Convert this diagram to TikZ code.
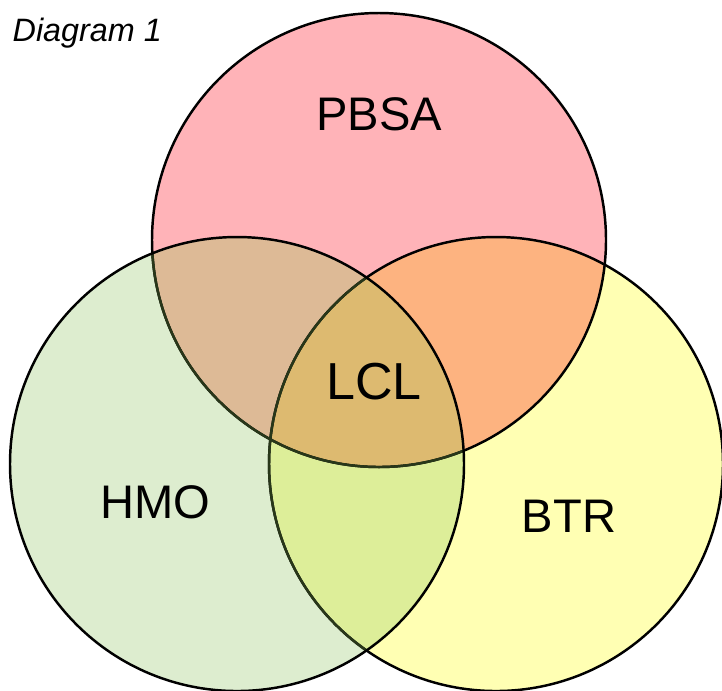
\documentclass[tikz,border=0pt]{standalone}
\usepackage{fontspec}
\setmainfont{Liberation Sans}
\begin{document}
\begin{tikzpicture}[x=0.01cm,y=-0.01cm,
  lbl/.style={font=\fontsize{13.4pt}{15pt}\selectfont, inner sep=0pt},
  ring/.style={draw=black, line width=0.7pt}]
\useasboundingbox (0,0) rectangle (722,690);
\def\Ra{227}
% circles
\coordinate (P) at (379,240);
\coordinate (H) at (237,464);
\coordinate (B) at (496,464);
\fill[fill={rgb,255:red,255;green,179;blue,184}] (P) circle (\Ra);
\fill[fill={rgb,255:red,255;green,255;blue,179}] (B) circle (\Ra);
\fill[fill={rgb,255:red,221;green,237;blue,207}] (H) circle (\Ra);
% pairwise overlaps
\begin{scope}
  \clip (P) circle (\Ra);
  \fill[fill={rgb,255:red,253;green,179;blue,128}] (B) circle (\Ra);
  \fill[fill={rgb,255:red,221;green,186;blue,150}] (H) circle (\Ra);
\end{scope}
\begin{scope}
  \clip (H) circle (\Ra);
  \fill[fill={rgb,255:red,221;green,238;blue,153}] (B) circle (\Ra);
  \clip (B) circle (\Ra);
  \fill[fill={rgb,255:red,221;green,186;blue,112}] (P) circle (\Ra);
\end{scope}
% outlines
\draw[ring] (P) circle (\Ra);
\draw[ring] (B) circle (\Ra);
\begin{scope}
  \clip (H) circle (\Ra);
  \draw[draw={rgb,255:red,40;green,55;blue,25}, line width=0.7pt] (P) circle (\Ra);
  \draw[draw={rgb,255:red,40;green,55;blue,25}, line width=0.7pt] (B) circle (\Ra);
\end{scope}
\draw[ring] (H) circle (\Ra);
% labels
\node[lbl] (pbsa) at (379,114) {PBSA};
\node[lbl, font=\fontsize{14.8pt}{16pt}\selectfont] (lcl) at (374,382) {LCL};
\node[lbl] (hmo) at (155,502) {HMO};
\node[lbl] (btr) at (569,516) {BTR};
\node[font=\fontsize{9.2pt}{10pt}\selectfont\itshape, anchor=west, inner sep=0pt] (title) at (12,33) {Diagram 1};
\end{tikzpicture}
\end{document}
